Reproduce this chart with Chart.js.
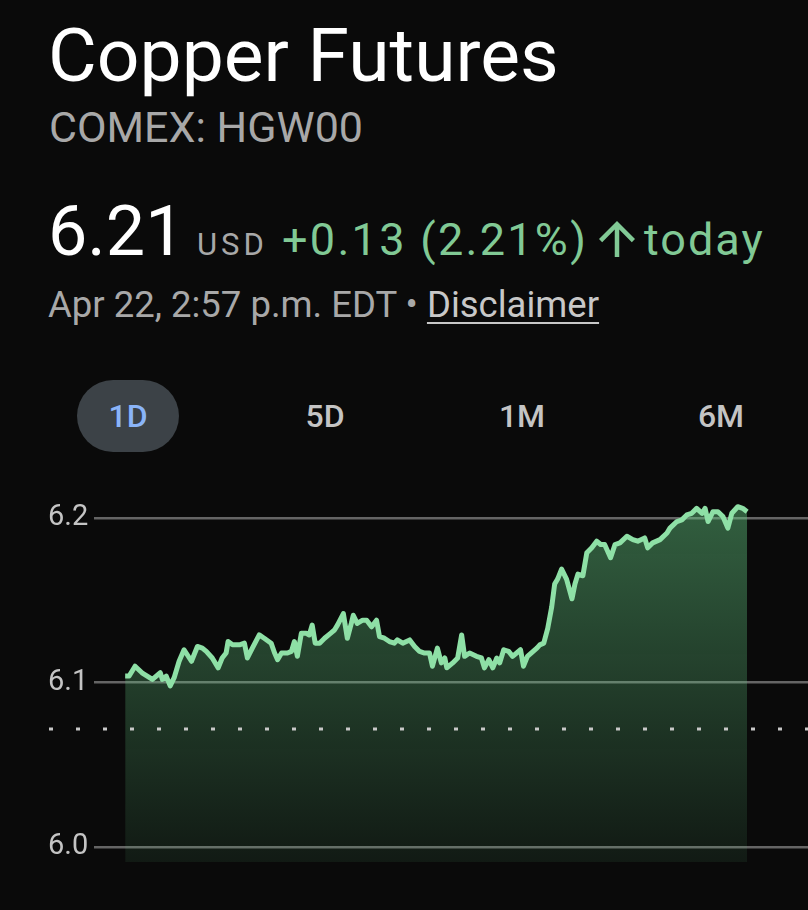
<!DOCTYPE html>
<html>
<head>
<meta charset="utf-8">
<script src="https://cdn.jsdelivr.net/npm/chart.js@4.4.1/dist/chart.umd.min.js"></script>
<style>
  html, body { margin:0; padding:0; background:#0a0a0a; width:808px; height:910px; overflow:hidden; font-family:Roboto, "Noto Sans", sans-serif; }
  .t { position:absolute; white-space:nowrap; line-height:1; }
  #titulo { left:48px; top:18px; font-size:75px; color:#fff; }
  #ticker { left:49px; top:106px; font-size:43px; color:#a8a8a8; }
  #precio { left:48px; top:196px; font-size:70px; color:#fff; }
  #moneda { left:197px; top:229px; font-size:31px; color:#a8a8a8; letter-spacing:4px; }
  #cambio { left:282px; top:217px; font-size:45px; color:#81c995; letter-spacing:2.3px; }
  #flecha { position:absolute; left:590px; top:212px; width:54px; height:54px; }
  #hoy { left:644px; top:217px; font-size:45px; color:#81c995; letter-spacing:2px; }
  #fecha { left:48px; top:287px; font-size:36.5px; color:#a8a8a8; }
  #fecha u { color:#c8c8c8; text-underline-offset:5px; text-decoration-thickness:2px; }
  .tab { position:absolute; top:380px; width:102px; height:72px; line-height:72px; text-align:center; font-size:32px; font-weight:500; color:#c4c4c4; }
  .tab.activa { background:#3c4247; border-radius:36px; color:#8ab4f8; }
  #grafico { position:absolute; left:0; top:464px; width:808px; height:426px; }
</style>
</head>
<body>
<div class="t" id="titulo">Copper Futures</div>
<div class="t" id="ticker">COMEX: HGW00</div>
<div class="t" id="precio">6.21</div>
<div class="t" id="moneda">USD</div>
<div class="t" id="cambio">+0.13 (2.21%)</div>
<svg id="flecha" viewBox="0 0 24 24"><path fill="#81c995" d="M4 12l1.41 1.41L11 7.83V20h2V7.83l5.58 5.59L20 12l-8-8-8 8z"/></svg>
<div class="t" id="hoy">today</div>
<div class="t" id="fecha">Apr 22, 2:57 p.m. EDT • <u>Disclaimer</u></div>

<div class="tab activa" style="left:77px;">1D</div>
<div class="tab" style="left:274px;">5D</div>
<div class="tab" style="left:471px;">1M</div>
<div class="tab" style="left:670px;">6M</div>

<div id="grafico"><canvas id="chartCobre"></canvas></div>

<script>
// ── Datos (minutos desde las 18:00 del día anterior, precio USD/lb) ──
const minutos = [
  0, 8, 20, 34, 55, 71, 75, 83, 91, 99, 109, 119, 134, 146, 156, 164, 176, 188, 196, 204,
  208, 217, 231, 241, 247, 257, 271, 281, 295, 302, 308, 316, 328, 336, 342, 348, 356, 366, 372, 378,
  384, 393, 403, 415, 423, 429, 441, 449, 457, 461, 469, 480, 488, 498, 508, 514, 524, 534, 544, 550,
  561, 575, 585, 595, 605, 615, 621, 631, 639, 646, 650, 662, 672, 680, 686, 696, 710, 720, 726, 735,
  743, 751, 757, 765, 775, 783, 799, 805, 813, 832, 838, 846, 854, 862, 868, 874, 882, 892, 903, 909,
  915, 925, 933, 943, 953, 961, 969, 981, 990, 1000, 1014, 1026, 1036, 1050, 1056, 1066, 1081, 1095, 1101, 1115,
  1125, 1135, 1145, 1155, 1166, 1172, 1178, 1188, 1198, 1208, 1218, 1226, 1238, 1248, 1257
];
const precios = [
  6.104, 6.104, 6.110, 6.106, 6.102, 6.106, 6.102, 6.104, 6.098, 6.103, 6.113, 6.120, 6.113, 6.122, 6.121, 6.119, 6.115, 6.109, 6.115, 6.118,
  6.125, 6.123, 6.123, 6.124, 6.115, 6.121, 6.129, 6.127, 6.124, 6.118, 6.114, 6.118, 6.118, 6.119, 6.125, 6.116, 6.130, 6.130, 6.129, 6.135,
  6.124, 6.124, 6.127, 6.130, 6.132, 6.135, 6.142, 6.127, 6.136, 6.141, 6.136, 6.138, 6.138, 6.134, 6.138, 6.128, 6.127, 6.125, 6.124, 6.126,
  6.124, 6.126, 6.122, 6.119, 6.118, 6.118, 6.110, 6.121, 6.112, 6.115, 6.109, 6.112, 6.115, 6.129, 6.116, 6.118, 6.116, 6.115, 6.109, 6.114,
  6.109, 6.115, 6.112, 6.120, 6.119, 6.116, 6.120, 6.110, 6.116, 6.121, 6.123, 6.124, 6.133, 6.146, 6.160, 6.163, 6.169, 6.163, 6.151, 6.160,
  6.166, 6.165, 6.179, 6.182, 6.186, 6.184, 6.184, 6.176, 6.184, 6.185, 6.189, 6.187, 6.186, 6.188, 6.182, 6.185, 6.187, 6.191, 6.194, 6.198,
  6.199, 6.202, 6.203, 6.206, 6.203, 6.206, 6.198, 6.204, 6.204, 6.201, 6.194, 6.203, 6.207, 6.206, 6.204
];
const ticksY = [6.0, 6.1, 6.2];
const cierreAnterior = 6.0715;
const rangoY = [5.9909, 6.2224];
const rangoX = [-63, 1380];   // sesión 18:00 → 17:00

// ── Línea punteada del cierre anterior ──
const lineaCierre = {
  id: 'lineaCierre',
  afterDatasetsDraw(chart) {
    const y = Math.round(chart.scales.y.getPixelForValue(cierreAnterior));
    const c = chart.ctx;
    c.save();
    c.strokeStyle = '#c8c8c8';
    c.lineWidth = 3;
    c.setLineDash([4, 23]);
    c.beginPath();
    c.moveTo(49, y); c.lineTo(chart.width, y);
    c.stroke();
    c.restore();
  }
};

function rellenoVerde(ctx) {
  const area = ctx.chart.chartArea;
  if (!area) return 'rgba(100,200,130,.3)';
  const g = ctx.chart.ctx.createLinearGradient(0, area.top + 25, 0, area.bottom);
  g.addColorStop(0, 'rgba(100,200,130,.45)');
  g.addColorStop(1, 'rgba(100,200,130,.085)');
  return g;
}

new Chart(document.getElementById('chartCobre'), {
  type: 'line',
  data: {
    datasets: [{
      data: minutos.map((m, i) => ({ x: m, y: precios[i] })),
      borderColor: '#8ee0a6', borderWidth: 5, borderJoinStyle: 'round',
      backgroundColor: rellenoVerde, fill: 'start',
      pointRadius: 0, tension: 0
    }]
  },
  options: {
    responsive: true, maintainAspectRatio: false, animation: false,
    layout: { padding: { left: 48, right: 0, top: 0, bottom: 28 } },
    plugins: { legend: { display: false }, tooltip: { enabled: false } },
    scales: {
      x: { type: 'linear', min: rangoX[0], max: rangoX[1], display: false },
      y: {
        min: rangoY[0], max: rangoY[1],
        afterBuildTicks: s => { s.ticks = ticksY.map(v => ({ value: v })); },
        afterFit: s => { s.width = 46; },
        border: { display: false },
        grid: { color: '#656565', lineWidth: 2.5, drawTicks: false },
        ticks: { color: '#c4c4c4', padding: 0, crossAlign: 'far',
          font: { family: 'Roboto', size: 29 }, callback: v => v.toFixed(1) }
      }
    }
  },
  plugins: [lineaCierre]
});
</script>
</body>
</html>
